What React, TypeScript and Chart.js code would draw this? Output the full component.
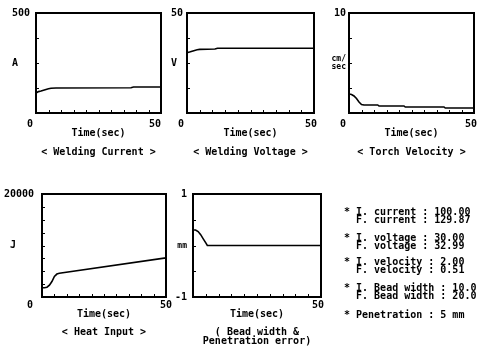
import React, { useEffect, useRef } from 'react';
import { Chart, registerables } from 'chart.js';

Chart.register(...registerables);

const FAMILY = "'DejaVu Sans Mono', 'Liberation Mono', monospace";

// ---- shared x axis ----
const timeTicks = [0, 5, 10, 15, 20, 25, 30, 35, 40, 45, 50];
const timeLabels = ['0', '', '', '', '', '', '', '', '', '', '50'];
const errorTimeLabels = ['', '', '', '', '', '', '', '', '', '', '50'];
const timeTitle = 'Time(sec)';

// ---- welding current ----
const currentTime = [0, 1, 2, 3, 4, 5, 6, 8, 38, 39, 50];
const currentValues = [100, 107, 110, 114, 118, 121, 124, 125, 126, 130, 130];
const currentYTicks = [0, 125, 250, 375, 500];
const currentYLabels = ['', '', 'A', '', '500'];

// ---- welding voltage ----
const voltageTime = [0, 1, 2, 3, 4, 5, 11, 12, 50];
const voltageValues = [30.2, 30.5, 30.9, 31.3, 31.6, 31.8, 32, 32.4, 32.4];
const voltageYTicks = [0, 12.5, 25, 37.5, 50];
const voltageYLabels = ['', '', 'V', '', '50'];

// ---- torch velocity ----
const velocityTime = [0, 1, 2, 3, 4, 5, 6, 11.5, 12, 22, 22.5, 38, 38.5, 50];
const velocityValues = [1.9, 1.85, 1.7, 1.45, 1.1, 0.85, 0.8, 0.8, 0.7, 0.7, 0.6, 0.6, 0.5, 0.5];
const velocityYTicks = [0, 2.5, 5, 7.5, 10];
const velocityYLabels: (string | string[])[] = ['', '', ['cm/', 'sec'], '', '10'];

// ---- heat input ----
const heatTime = [0, 1, 2, 3, 4, 5, 6, 7, 50];
const heatValues = [1800, 1800, 1900, 2300, 3000, 4000, 4450, 4600, 7600];
const heatYTicks = [0, 2500, 5000, 7500, 10000, 12500, 15000, 17500, 20000];
const heatYLabels = ['', '', '', '', ' J', '', '', '', '20000'];

// ---- bead width & penetration error ----
const errorTime = [0, 1, 2, 3, 4, 5, 5.6, 50];
const errorValues = [0.3, 0.3, 0.27, 0.21, 0.13, 0.05, 0, 0];
const errorYTicks = [-1, -0.5, 0, 0.5, 1];
const errorYLabels = ['-1', '', 'mm', '', '1'];

const captions: (string | string[])[] = [
  '< Welding Current >',
  '< Welding Voltage >',
  '< Torch Velocity >',
  '< Heat Input >',
  ['( Bead width &', 'Penetration error)'],
];

const summaryLines = [
  '* I. current : 100.00',
  '  F. current : 129.87',
  '* I. voltage : 30.00',
  '  F. voltage : 32.99',
  '* I. velocity : 2.00',
  '  F. velocity : 0.51',
  '* I. Bead width : 10.0',
  '  F. Bead width : 20.0',
  '* Penetration : 5 mm',
];
const summaryCenters = [212, 220, 238, 246, 262, 270, 288, 296, 315];

type Spec = {
  left: number; top: number; w: number; h: number;
  pad: { left: number; top: number; right: number; bottom: number };
  yWidth: number; xHeight: number;
  yAlign: 'near' | 'far'; yPad: number; xPad: number;
  capPadTop: number; capLH: number;
  xShift: [number, number];
  t: number[]; v: number[];
  yMin: number; yMax: number; yTicks: number[]; yLabels: (string | string[])[];
  smallIdx: number;
  xLabels: string[]; caption: string | string[];
};

const specs: Spec[] = [
  {
    left: 0, top: 0, w: 170, h: 160,
    pad: { left: 12, top: 13, right: 9, bottom: 2 },
    yWidth: 24, xHeight: 26, yAlign: 'far', yPad: 0, xPad: 5,
    capPadTop: 7, capLH: 1.2, xShift: [2, 2],
    t: currentTime, v: currentValues, yMin: 0, yMax: 500,
    yTicks: currentYTicks, yLabels: currentYLabels, smallIdx: -1,
    xLabels: timeLabels, caption: captions[0],
  },
  {
    left: 160, top: 0, w: 165, h: 160,
    pad: { left: 11, top: 13, right: 11, bottom: 2 },
    yWidth: 16, xHeight: 26, yAlign: 'far', yPad: 0, xPad: 5,
    capPadTop: 7, capLH: 1.2, xShift: [2, 1],
    t: voltageTime, v: voltageValues, yMin: 0, yMax: 50,
    yTicks: voltageYTicks, yLabels: voltageYLabels, smallIdx: -1,
    xLabels: timeLabels, caption: captions[1],
  },
  {
    left: 320, top: 0, w: 166, h: 160,
    pad: { left: 8, top: 13, right: 12, bottom: 2 },
    yWidth: 21, xHeight: 26, yAlign: 'near', yPad: 3, xPad: 5,
    capPadTop: 7, capLH: 1.2, xShift: [2, 1],
    t: velocityTime, v: velocityValues, yMin: 0, yMax: 10,
    yTicks: velocityYTicks, yLabels: velocityYLabels, smallIdx: 2,
    xLabels: timeLabels, caption: captions[2],
  },
  {
    left: 0, top: 170, w: 172, h: 178,
    pad: { left: 4, top: 24, right: 6, bottom: 11.5 },
    yWidth: 38, xHeight: 23, yAlign: 'far', yPad: 0, xPad: 2,
    capPadTop: 7.5, capLH: 0.9, xShift: [4, 0],
    t: heatTime, v: heatValues, yMin: 0, yMax: 20000,
    yTicks: heatYTicks, yLabels: heatYLabels, smallIdx: -1,
    xLabels: timeLabels, caption: captions[3],
  },
  {
    left: 160, top: 170, w: 166, h: 178,
    pad: { left: 10, top: 24, right: 5, bottom: 2.5 },
    yWidth: 23, xHeight: 23, yAlign: 'near', yPad: 6, xPad: 2,
    capPadTop: 7.5, capLH: 0.9, xShift: [0, 1],
    t: errorTime, v: errorValues, yMin: -1, yMax: 1,
    yTicks: errorYTicks, yLabels: errorYLabels, smallIdx: 2,
    xLabels: errorTimeLabels, caption: captions[4],
  },
];

const framePlugin = {
  id: 'frame',
  afterDatasetsDraw(chart: any) {
    const { ctx, chartArea: a, scales } = chart;
    ctx.save();
    ctx.strokeStyle = '#000';
    ctx.lineWidth = 2;
    ctx.strokeRect(a.left, a.top, a.right - a.left, a.bottom - a.top);
    ctx.lineWidth = 1;
    const xs = scales.x;
    xs.ticks.forEach((tk: any) => {
      if (tk.value <= xs.min || tk.value >= xs.max) return;
      const px = Math.round(xs.getPixelForValue(tk.value)) + 0.5;
      ctx.beginPath();
      ctx.moveTo(px, a.bottom);
      ctx.lineTo(px, a.bottom - 3);
      ctx.stroke();
    });
    const ys = scales.y;
    ys.ticks.forEach((tk: any) => {
      if (tk.value <= ys.min || tk.value >= ys.max) return;
      const py = Math.round(ys.getPixelForValue(tk.value)) + 0.5;
      ctx.beginPath();
      ctx.moveTo(a.left, py);
      ctx.lineTo(a.left + 3, py);
      ctx.stroke();
    });
    ctx.restore();
  },
};

function buildConfig(s: Spec): any {
  const normalFont = { family: FAMILY, size: 10, weight: 'bold', lineHeight: 1.2 };
  const smallFont = { family: FAMILY, size: 8, weight: 'bold', lineHeight: 1 };
  const xl = s.xLabels.map((l, i) =>
    l === '' ? '' : l + ' '.repeat(i === 0 ? s.xShift[0] : s.xShift[1])
  );
  return {
    type: 'line',
    data: {
      datasets: [
        {
          data: s.t.map((t, i) => ({ x: t, y: s.v[i] })),
          borderColor: '#000',
          borderWidth: 1.6,
          pointRadius: 0,
          tension: 0,
          fill: false,
        },
      ],
    },
    options: {
      responsive: false,
      animation: false,
      events: [],
      layout: { padding: s.pad },
      plugins: {
        legend: { display: false },
        tooltip: { enabled: false },
        title: {
          display: true,
          position: 'bottom',
          fullSize: false,
          text: s.caption,
          color: '#000',
          font: { family: FAMILY, size: 10, weight: 'bold', lineHeight: s.capLH },
          padding: { top: s.capPadTop, bottom: 0 },
        },
      },
      scales: {
        x: {
          type: 'linear',
          min: 0,
          max: 50,
          afterBuildTicks: (sc: any) => {
            sc.ticks = timeTicks.map((v) => ({ value: v }));
          },
          ticks: {
            autoSkip: false,
            maxRotation: 0,
            minRotation: 0,
            padding: s.xPad,
            color: '#000',
            font: normalFont,
            callback: (_v: any, i: number) => xl[i],
          },
          grid: { display: false, drawTicks: false },
          border: { display: false },
          title: {
            display: true,
            text: timeTitle,
            color: '#000',
            font: normalFont,
            padding: 0,
          },
          afterFit: (sc: any) => {
            sc.height = s.xHeight;
            sc.paddingLeft = 0;
            sc.paddingRight = 0;
            sc.paddingTop = 0;
            sc.paddingBottom = 0;
          },
        },
        y: {
          type: 'linear',
          min: s.yMin,
          max: s.yMax,
          afterBuildTicks: (sc: any) => {
            sc.ticks = s.yTicks.map((v) => ({ value: v }));
          },
          ticks: {
            autoSkip: false,
            crossAlign: s.yAlign,
            padding: s.yPad,
            color: '#000',
            font: (c: any) => (c.index === s.smallIdx ? smallFont : normalFont),
            callback: (_v: any, i: number) => s.yLabels[i],
          },
          grid: { display: false, drawTicks: false },
          border: { display: false },
          afterFit: (sc: any) => {
            sc.width = s.yWidth;
            sc.paddingLeft = 0;
            sc.paddingRight = 0;
            sc.paddingTop = 0;
            sc.paddingBottom = 0;
          },
        },
      },
    },
    plugins: [framePlugin],
  };
}

function Panel({ spec }: { spec: Spec }) {
  const ref = useRef<HTMLCanvasElement>(null);
  useEffect(() => {
    const chart = new Chart(ref.current as HTMLCanvasElement, buildConfig(spec));
    return () => chart.destroy();
  }, [spec]);
  return (
    <canvas
      ref={ref}
      width={spec.w}
      height={spec.h}
      style={{ position: 'absolute', left: spec.left, top: spec.top, width: spec.w, height: spec.h }}
    />
  );
}

export default function App() {
  useEffect(() => {
    document.body.style.margin = '0';
    document.body.style.background = '#fff';
  }, []);
  return (
    <div style={{ position: 'relative', width: 486, height: 348, background: '#fff', overflow: 'hidden' }}>
      {specs.map((s, i) => (
        <Panel key={i} spec={s} />
      ))}
      {summaryLines.map((line, i) => (
        <div
          key={'s' + i}
          style={{
            position: 'absolute',
            left: 344,
            top: summaryCenters[i] - 4,
            fontFamily: FAMILY,
            fontWeight: 'bold',
            fontSize: 10,
            lineHeight: '8px',
            whiteSpace: 'pre',
            color: '#000',
          }}
        >
          {line}
        </div>
      ))}
    </div>
  );
}
